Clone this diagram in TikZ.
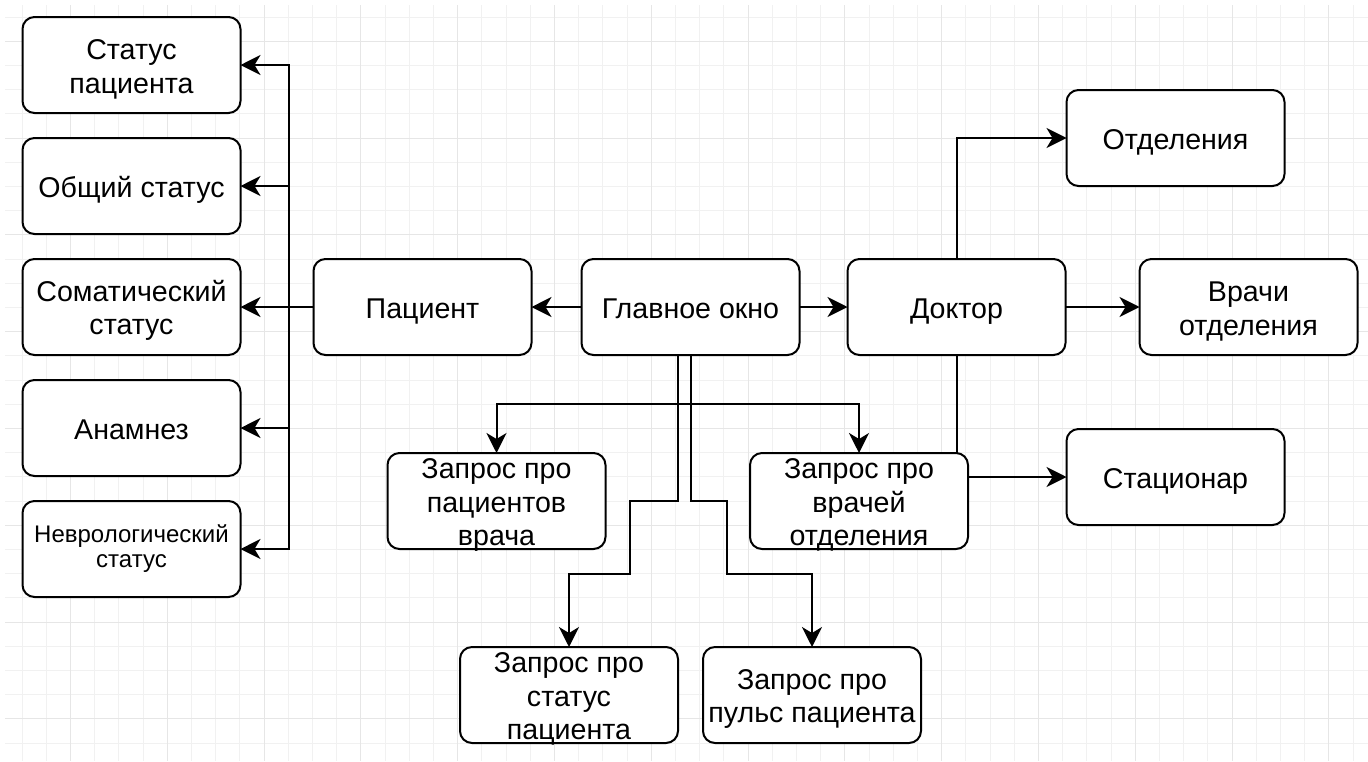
\documentclass[tikz,border=0pt]{standalone}
\usepackage{fontspec}
\setmainfont{Liberation Sans}
\usepackage{xcolor}
\usepackage{tikz}
\usetikzlibrary{arrows.meta,positioning,backgrounds}
\definecolor{GridMinor}{HTML}{F1F1F1}
\definecolor{GridMajor}{HTML}{E6E6E6}
\newcommand\tstrut{\rule[-2.55pt]{0pt}{16.7pt}}
\newcommand\nstrut{\rule[-3.25pt]{0pt}{12.5pt}}

\begin{document}
\begin{tikzpicture}[
    x=0.5pt, y=-0.5pt,
    cardbase/.style={draw=black, rounded corners=6pt, line width=1pt, fill=white, align=center, inner xsep=0pt, inner ysep=-1.5pt, outer sep=0pt, minimum width=109pt, minimum height=48pt},
    card/.style={cardbase, font=\fontsize{14.3}{16.7}\selectfont, execute at begin node=\tstrut, execute at end node=\tstrut},
    smallcard/.style={cardbase, font=\fontsize{12}{12.5}\selectfont, execute at begin node=\nstrut, execute at end node=\nstrut},
    arr/.style={-{Stealth[length=10pt, width=10pt, inset=3pt]}, line width=1pt, draw=black},
    gridline/.style={draw=GridMinor, line width=0.5pt},
    gridmajor/.style={draw=GridMajor, line width=0.5pt}
]
\useasboundingbox (0,0) rectangle (1368,761);
% left column
\node[card] (stat) at (131.5,65) {\tstrut Статус\\пациента};
\node[card, below=12.5pt of stat] (general) {Общий статус};
\node[card, below=12.5pt of general] (soma) {\tstrut Соматический\\статус};
\node[card, below=12.5pt of soma] (anam) {Анамнез};
\node[smallcard, below=12.5pt of anam] (neuro) {\nstrut Неврологический\\статус};
% main row
\node[card, right=36.5pt of soma] (patient) {Пациент};
\node[card, right=25pt of patient] (main) {Главное окно};
\node[card, right=24pt of main] (doctor) {Доктор};
\node[card, right=37pt of doctor] (staff) {\tstrut Врачи\\отделения};
\node[card, above right=36.5pt and 0.5pt of doctor] (depts) {Отделения};
\node[card, below right=37pt and 0.5pt of doctor] (ward) {Стационар};
% queries
\node[card, below=49pt of main, xshift=-97pt] (reqpat) {\tstrut Запрос про\\пациентов\\врача};
\node[card, below=49pt of main, xshift=84.25pt] (reqdoc) {\tstrut Запрос про\\врачей\\отделения};
\node[card, below=49pt of reqpat, xshift=36.25pt] (reqstat) {\tstrut Запрос про\\статус\\пациента};
\node[card, right=12.5pt of reqstat] (reqpulse) {\tstrut Запрос про\\пульс пациента};

\begin{scope}[on background layer]
\fill[white] (0,0) rectangle (1368,761);
% grid
\foreach \i in {0,...,55} \draw[gridline] ({22+\i*24.2},5) -- ++(0,756);
\foreach \j in {0,...,30} \draw[gridline] (5,{17+\j*24.2}) -- ++(1363,0);
\foreach \i in {2,6,...,54} \draw[gridmajor] ({22+\i*24.2},5) -- ++(0,756);
\foreach \j in {1,5,...,29} \draw[gridmajor] (5,{17+\j*24.2}) -- ++(1363,0);
% connectors
\draw[arr] (patient.west) -- ++(-25,0) |- (stat.east);
\draw[arr] (patient.west) -- ++(-25,0) |- (general.east);
\draw[arr] (patient.west) -- (soma.east);
\draw[arr] (patient.west) -- ++(-25,0) |- (anam.east);
\draw[arr] (patient.west) -- ++(-25,0) |- (neuro.east);
\draw[arr] (main) -- (patient);
\draw[arr] (main) -- (doctor);
\draw[arr] (doctor.north) |- (depts.west);
\draw[arr] (doctor) -- (staff);
\draw[arr] (doctor.south) |- (ward.west);
\draw[arr] (main.south) -- ++(0,49) -| (reqpat.north);
\draw[arr] (main.south) -- ++(0,49) -| (reqdoc.north);
\draw[arr] ([xshift=-6.5pt]main.south) |- ++(-48,146) -- ++(0,73) -| (reqstat.north);
\draw[arr] (main.south) |- ++(36,146) -- ++(0,73) -| (reqpulse.north);
\end{scope}
\end{tikzpicture}
\end{document}
